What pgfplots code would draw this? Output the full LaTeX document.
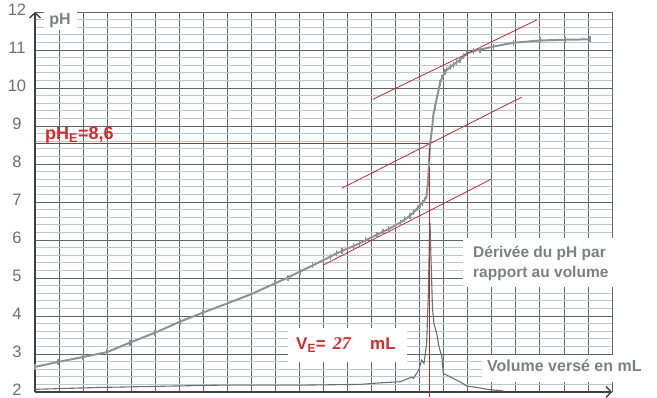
\documentclass[border=0pt]{standalone}
\usepackage{pgfplots}
\pgfplotsset{compat=1.18}
\usepackage{fontspec}
\setmainfont{Liberation Sans}
\newfontfamily\serifit{Liberation Serif}
\usetikzlibrary{arrows.meta}
\definecolor{majgrid}{HTML}{5E6668}
\definecolor{mingrid}{HTML}{B9C7CE}
\definecolor{curvegray}{HTML}{8D9395}
\definecolor{dergray}{HTML}{6A6E70}
\definecolor{redline}{HTML}{C0272D}
\definecolor{redtext}{HTML}{D42A2C}
\definecolor{labgray}{HTML}{7B8183}
\definecolor{tickgray}{HTML}{6E6E6E}
\begin{document}
\begin{tikzpicture}[x=1pt,y=1pt]
\useasboundingbox (-35,-6) rectangle (622,392);
\begin{axis}[
  at={(0,0)}, anchor=south west,
  scale only axis, width=577pt, height=380pt,
  xmin=0, xmax=39.47, ymin=2, ymax=12,
  xtick={0,1.6446,3.2892,4.9338,6.5783,8.2229,9.8675,11.5121,13.1567,14.8013,16.4458,18.0904,19.7350,21.3796,23.0242,24.6688,26.3133,27.9579,29.6025,31.2471,32.8917,34.5363,36.1808,37.8254,39.47},
  xticklabels={},
  ytick={2,3,4,5,6,7,8,9,10,11,12},
  minor x tick num=1, minor y tick num=4,
  grid=both,
  major grid style={draw=majgrid, line width=0.8pt},
  minor grid style={draw=mingrid, line width=0.6pt},
  major tick length=0pt, minor tick length=0pt,
  axis lines=left,
  axis line style={draw=black!75, line width=1.6pt, -{Straight Barb[length=5pt,width=11pt,line width=1.4pt]}},
  /pgf/number format/assume math mode=true,
  yticklabel style={anchor=center, inner sep=0pt, xshift=-18pt, yshift=2pt, font=\fontsize{16.5}{16.5}\selectfont, text=tickgray},
  clip=false,
]
% derivative
\addplot[dergray, line width=1.1pt] coordinates {
(0,2.07) (4.45,2.12) (8.55,2.15) (12.65,2.18) (18.13,2.18) (22.23,2.2) (23.6,2.24) (24.97,2.27) (25.77,2.39) (25.89,2.36) (26.11,2.49) (26.27,2.6) (26.45,2.84) (26.61,2.75) (26.79,3.28) (26.9,4.5) (26.97,5.8) (27.02,6.45) (27.09,5.5) (27.19,4.2) (27.29,3.8) (27.48,3.54) (27.63,3.2) (27.83,2.93) (27.93,2.49) (28.39,2.4) (29.07,2.27) (29.53,2.16) (30.21,2.12) (31.12,2.06) (32.03,2.03)};
% pH curve
\addplot[curvegray, line width=2pt, mark=|, mark size=3pt, mark options={line width=1.2pt}] coordinates {
(0,2.66) (1.57,2.79) (3.28,2.92) (4.93,3.05) (6.50,3.30) (8.21,3.56) (9.92,3.85) (11.49,4.09) (13.15,4.33) (14.82,4.58) (16.42,4.86) (17.30,5.01) (18.13,5.17) (19.0,5.33) (19.72,5.47) (20.2,5.56) (20.64,5.65) (21.0,5.71) (21.39,5.78) (21.8,5.84) (22.2,5.91) (22.6,5.99) (23.03,6.07) (23.4,6.14) (23.8,6.22) (24.2,6.29) (24.67,6.39) (25.0,6.46) (25.3,6.54) (25.65,6.64) (25.9,6.73) (26.15,6.83) (26.34,6.92) (26.5,6.98) (26.65,7.05) (26.78,7.15) (26.88,7.5) (26.95,8.0) (27.02,8.5) (27.1,8.75) (27.18,9.0) (27.25,9.3) (27.36,9.5) (27.48,9.73) (27.6,9.93) (27.70,10.12) (27.82,10.25) (27.93,10.34) (28.05,10.42) (28.16,10.47) (28.4,10.55) (28.61,10.61) (28.85,10.68) (29.07,10.74) (29.3,10.83) (29.53,10.91) (30.0,10.97) (30.44,11.01) (31.35,11.09) (32.72,11.19) (34.54,11.25) (36.25,11.27) (37.96,11.28)};
% red construction lines
\addplot[redline, line width=0.8pt] coordinates {(23.10,9.70) (34.32,11.79)};
\addplot[redline, line width=0.8pt] coordinates {(20.98,7.36) (33.29,9.76)};
\addplot[redline, line width=0.8pt] coordinates {(19.72,5.34) (31.2,7.6)};
\addplot[redline, line width=0.8pt] coordinates {(0,8.55) (27.0,8.55) (27.0,1.88)};
\end{axis}
\fill[white] (9,362) rectangle (42,390);
\fill[white] (253,30) rectangle (372,64);
\fill[white] (428,105) rectangle (587,154);
\fill[white] (447,10) rectangle (622,37);
\node[text=labgray, font=\bfseries\fontsize{16}{16}\selectfont] at (25,371) {pH};
\node[anchor=base west, inner sep=0pt, text=redtext, font=\bfseries\fontsize{18}{18}\selectfont] at (10,252) {pH\textsubscript{E}=8,6};
\node[anchor=base west, inner sep=0pt, text=redtext, font=\bfseries\fontsize{17}{17}\selectfont] at (261,42) {V\textsubscript{E}=};
\node[anchor=base west, inner sep=0pt, text=redtext, font=\serifit\bfseries\itshape\fontsize{18}{18}\selectfont] at (297.7,42) {27};
\node[anchor=base west, inner sep=0pt, text=redtext, font=\bfseries\fontsize{17}{17}\selectfont] at (335,42) {mL};
\node[anchor=base west, inner sep=0pt, text=labgray, font=\bfseries\fontsize{15.5}{15.5}\selectfont] at (438,134) {Dérivée du pH par};
\node[anchor=base west, inner sep=0pt, text=labgray, font=\bfseries\fontsize{15.5}{15.5}\selectfont] at (438,114) {rapport au volume};
\node[anchor=base west, inner sep=0pt, text=labgray, font=\bfseries\fontsize{16}{16}\selectfont] at (452,20) {Volume versé en mL};
\end{tikzpicture}
\end{document}
